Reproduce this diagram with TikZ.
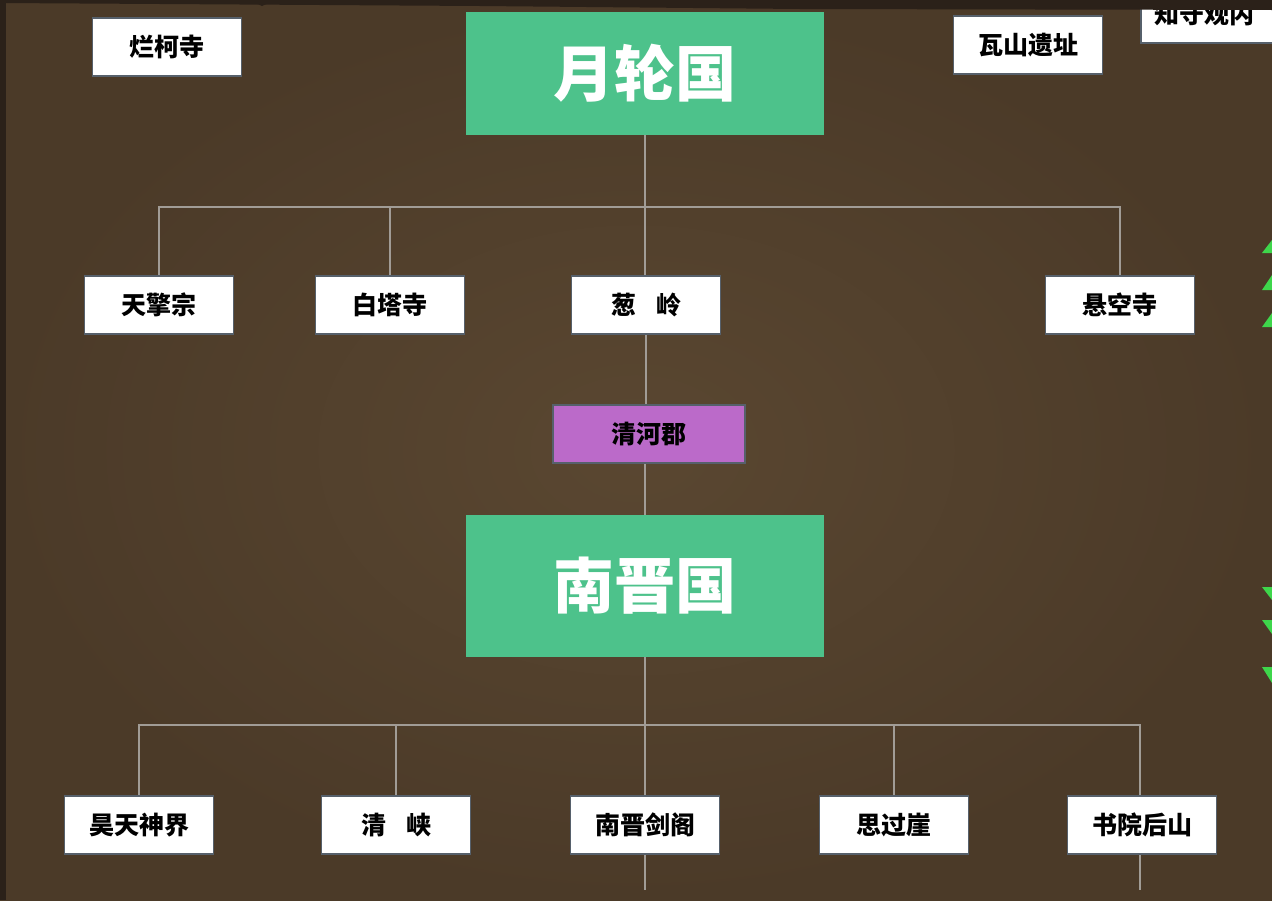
\documentclass[tikz,border=0pt]{standalone}
\usepackage{fontspec}
\newfontfamily\cjk{Noto Sans CJK SC}
\usetikzlibrary{positioning}

\definecolor{bgbrown}{HTML}{4B3A28}
\definecolor{bglight}{HTML}{5A4731}
\definecolor{bgdark}{HTML}{2B2119}
\definecolor{kinggreen}{HTML}{4DC28B}
\definecolor{commpurple}{HTML}{BB6AC9}
\definecolor{linegray}{HTML}{A19C96}
\definecolor{rimgray}{HTML}{56606B}
\definecolor{leafgreen}{HTML}{3ED64B}

\begin{document}
\begin{tikzpicture}[x=1pt,y=-1pt,
  placebox/.style={draw=rimgray,line width=1.6pt,fill=white,minimum width=149pt,
    minimum height=58pt,inner sep=0pt,font=\cjk\bfseries\fontsize{25}{25}\selectfont},
  kingdom/.style={fill=kinggreen,minimum width=358pt,inner sep=0pt,text=white,
    font=\cjk\bfseries\fontsize{61}{61}\selectfont},
  commandery/.style={draw=rimgray,line width=1.6pt,fill=commpurple,minimum width=192pt,
    minimum height=58pt,inner sep=0pt,font=\cjk\bfseries\fontsize{25}{25}\selectfont},
  link/.style={draw=linegray,line width=1.8pt},
  leaf/.style={fill=leafgreen}]
\useasboundingbox (0,0) rectangle (1272,900);
% background
\shade[inner color=bglight,outer color=bgbrown] (0,0) rectangle (1272,900);
\fill[bgdark] (0,0) rectangle (6,900);
\begin{scope}
\clip (0,0) rectangle (1272,900);

% top row
\node[kingdom,minimum height=123pt] (yuelun) at (645,73.5) {月轮国};
\node[placebox] (lanke) at (167,47) {烂柯寺};
\node[placebox] (washan) at (1028,45) {瓦山遗址};
\node[placebox,text width=140pt,align=left,anchor=west] (zhishou) at (1140,14) {\hspace*{9pt}\raisebox{-4pt}{知守观内}};

% under yuelun
\node[placebox] (tianqing) at (159,305) {天擎宗};
\node[placebox] (baita) at (390,305) {白塔寺};
\node[placebox] (congling) at (646,305) {葱\hspace{0.8em}岭};
\node[placebox] (xuankong) at (1120,305) {悬空寺};
\node[commandery] (qinghe) at (649,434) {清河郡};

% nanjin
\node[kingdom,minimum height=142pt] (nanjin) at (645,586) {南晋国};
\node[placebox] (haotian) at (139,825) {昊天神界};
\node[placebox] (qingxia) at (396,825) {清\hspace{0.8em}峡};
\node[placebox] (jiange) at (645,825) {南晋剑阁};
\node[placebox] (siguo) at (894,825) {思过崖};
\node[placebox] (shuyuan) at (1142,825) {书院后山};

% connectors
\coordinate (busA) at (0,207);
\coordinate (busB) at (0,725);
\coordinate (jiangeEnd) at (645,890);
\coordinate (shuyuanEnd) at (1140,890);
\draw[link] (tianqing.north) -- (tianqing.north |- busA) -| (xuankong.north);
\draw[link] (baita.north) -- (baita.north |- busA);
\draw[link] (yuelun.south) -- (yuelun.south |- congling.north);
\draw[link] (congling.south) -- (congling.south |- qinghe.north);
\draw[link] (qinghe.south -| nanjin.north) -- (nanjin.north);
\draw[link] (haotian.north) -- (haotian.north |- busB) -| ([xshift=-2pt]shuyuan.north);
\draw[link] (qingxia.north) -- (qingxia.north |- busB);
\draw[link] (siguo.north) -- (siguo.north |- busB);
\draw[link] (nanjin.south) -- (jiange.north);
\draw[link] (jiange.south) -- (jiangeEnd);
\draw[link] (jiange.south -| shuyuanEnd) -- (shuyuanEnd);

% dark top edge
\fill[bgdark] (0,0) -- (1272,0) -- (1272,10) -- (800,9) -- (480,6) -- (0,3) -- cycle;
\fill[bgdark] (250,0) -- (275,0) -- (262,6) -- cycle;

% green marks at the right edge
\fill[leaf] (1272,240) -- (1272,253) -- (1262,253) -- cycle;
\fill[leaf] (1272,275) -- (1272,290) -- (1262,290) -- cycle;
\fill[leaf] (1272,313) -- (1272,327) -- (1262,327) -- cycle;
\fill[leaf] (1272,587) -- (1272,600) -- (1262,587) -- cycle;
\fill[leaf] (1272,620) -- (1272,634) -- (1262,620) -- cycle;
\fill[leaf] (1272,667) -- (1272,683) -- (1262,667) -- cycle;
\end{scope}
\end{tikzpicture}
\end{document}
